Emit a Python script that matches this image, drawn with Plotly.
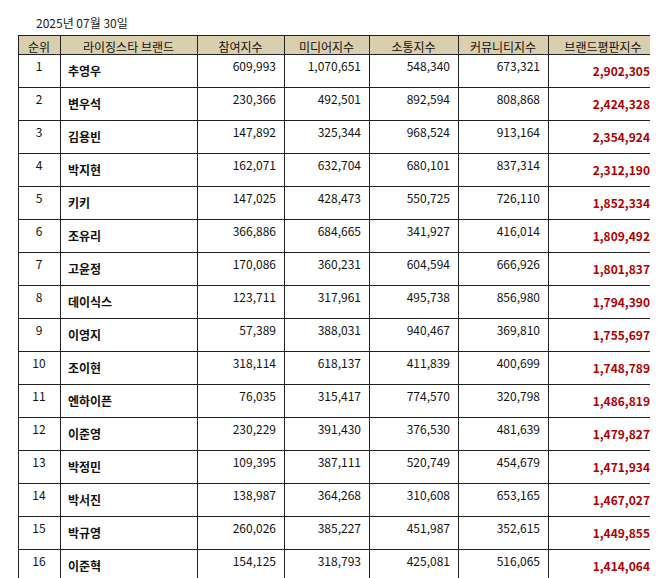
import plotly.graph_objects as go

ranks = list(range(1, 31))
names = ["추영우", "변우석", "김용빈", "박지현", "키키", "조유리", "고윤정", "데이식스", "이영지", "조이현",
         "엔하이픈", "이준영", "박정민", "박서진", "박규영", "이준혁", "문가영", "비비", "베이비몬스터", "이제훈",
         "스트레이키즈", "김도영", "QWER", "서강준", "이수지", "안성훈", "최우식", "김혜윤", "채수빈", "카더가든"]
participation = [609993, 230366, 147892, 162071, 147025, 366886, 170086, 123711, 57389, 318114,
                 76035, 230229, 109395, 138987, 260026, 154125, 190567, 47018, 114121, 74528,
                 80008, 156865, 96517, 44751, 93434, 46923, 47779, 118711, 97613, 101860]
media = [1070651, 492501, 325344, 632704, 428473, 684665, 360231, 317961, 388031, 618137,
         315417, 391430, 387111, 364268, 385227, 318793, 443106, 345429, 250245, 206650,
         479351, 341568, 184888, 316871, 269500, 168116, 314971, 334259, 302821, 210807]
communication = [548340, 892594, 968524, 680101, 550725, 341927, 604594, 495738, 940467, 411839,
                 774570, 376530, 520749, 310608, 451987, 425081, 409775, 522626, 438475, 676492,
                 364677, 388864, 226383, 504882, 261696, 617805, 549904, 330773, 348148, 258601]
community = [673321, 808868, 913164, 837314, 726110, 416014, 666926, 856980, 369810, 400699,
             320798, 481639, 454679, 653165, 352615, 516065, 352810, 462176, 565989, 393032,
             407255, 390849, 698206, 298878, 521058, 296019, 188519, 305223, 324857, 462466]
brand = [2902305, 2424328, 2354924, 2312190, 1852334, 1809492, 1801837, 1794390, 1755697, 1748789,
         1486819, 1479827, 1471934, 1467027, 1449855, 1414064, 1396257, 1377250, 1368830, 1350701,
         1331290, 1278146, 1205993, 1165382, 1145688, 1128861, 1101173, 1088966, 1073439, 1033733]
headers = ["순위", "라이징스타 브랜드", "참여지수", "미디어지수", "소통지수", "커뮤니티지수", "브랜드평판지수"]

fmt = lambda vals: [f"{v:,}" for v in vals]
bold = lambda vals: [f"<b>{v}</b>" for v in vals]

fig = go.Figure(go.Table(
    columnwidth=[42, 137, 87, 85, 89, 90, 110],
    header=dict(values=headers, fill_color="#d9cfae", line=dict(color="#222", width=1),
                align="center", height=19,
                font=dict(family="Noto Sans CJK KR", size=12, color="#111")),
    cells=dict(values=[ranks, bold(names), fmt(participation), fmt(media), fmt(communication),
                       fmt(community), bold(fmt(brand))],
               fill_color="white", line=dict(color="#222", width=1),
               align=["center", "left", "right", "right", "right", "right", "right"],
               height=17,
               font=dict(family="Noto Sans CJK KR", size=12,
                         color=["#111"] * 6 + ["#b00000"])),
))
fig.update_layout(
    width=658, height=578, margin=dict(l=10, r=8, t=27, b=0),
    paper_bgcolor="white",
    annotations=[dict(text="2025년 07월 30일", x=0.1, y=1, xref="paper", yref="paper",
                      xanchor="center", yanchor="bottom", yshift=2, showarrow=False,
                      font=dict(family="Noto Sans CJK KR", size=12, color="#222"))],
)
fig.write_html("out.html")
